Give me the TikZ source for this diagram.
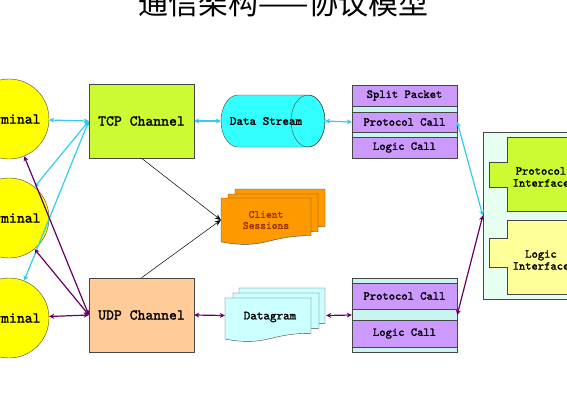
\documentclass[tikz,border=0pt]{standalone}
\usepackage{fontspec}
\newfontfamily\cjkfont{Noto Sans CJK SC}
\newfontfamily\labelfont{lmmono10-regular.otf}[FakeBold=1.6]
\usetikzlibrary{arrows.meta}

\definecolor{termyellow}{RGB}{255,255,0}
\definecolor{tcpgreen}{RGB}{204,250,51}
\definecolor{udppeach}{RGB}{255,204,153}
\definecolor{streamcyan}{RGB}{51,255,255}
\definecolor{callpurple}{RGB}{204,153,255}
\definecolor{bandcyan}{RGB}{200,245,240}
\definecolor{sessorange}{RGB}{255,153,0}
\definecolor{sesstext}{RGB}{153,51,0}
\definecolor{dgramcyan}{RGB}{204,255,255}
\definecolor{panelmint}{RGB}{230,255,240}
\definecolor{ifyellow}{RGB}{255,255,153}
\definecolor{linkcyan}{RGB}{51,204,238}
\definecolor{linkpurple}{RGB}{102,0,102}
\definecolor{edgegray}{RGB}{70,70,70}

% one sheet of a document stack: style, left, top, width, height
\newcommand{\docsheet}[5]{%
  \filldraw[#1] (#2,#3) -- (#2+#4,#3) -- (#2+#4,#3+0.802*#5)
    .. controls (#2+0.5*#4,#3+0.802*#5) and (#2+0.5*#4,#3+1.107*#5) .. (#2,#3+0.934*#5) -- cycle;}

\begin{document}
\begin{tikzpicture}[x=1pt,y=-1pt,
    lbl/.style={font=\labelfont\fontsize{#1}{#1}\selectfont},
    terminal/.style={circle,draw=edgegray,fill=termyellow,minimum size=80pt,inner sep=0pt,lbl=15},
    channel/.style={rectangle,draw=edgegray,minimum width=105pt,minimum height=74pt,inner sep=0pt,lbl=15},
    stackbg/.style={rectangle,draw=edgegray,fill=bandcyan,minimum width=105pt,inner sep=0pt},
    callrow/.style={rectangle,draw=edgegray,fill=callpurple,minimum width=105pt,inner sep=0pt,lbl=12},
    cyanlink/.style={draw=linkcyan,line width=1.2pt,
      every edge/.append style={{Stealth[length=5pt,width=5pt]}-{Stealth[length=5pt,width=5pt]}}},
    purplelink/.style={draw=linkpurple,line width=1.2pt,
      every edge/.append style={{Stealth[length=5pt,width=5pt]}-{Stealth[length=5pt,width=5pt]}}},
    sheetlink/.style={draw=black,line width=0.5pt,
      every edge/.append style={-{Stealth[length=6pt,width=5pt]}}}]

  \useasboundingbox (0,0) rectangle (567,400);

  \node at (283.5,3) [font=\cjkfont\fontsize{30}{30}\selectfont] (title) {通信架构——协议模型};

  \node at (9,119) [terminal] (term1) {Terminal};
  \node at (9,218) [terminal] (term2) {Terminal};
  \node at (9,318) [terminal] (term3) {Terminal};

  \node at (141.5,121) [channel,fill=tcpgreen] (tcp) {TCP Channel};
  \node at (141.5,315) [channel,fill=udppeach] (udp) {UDP Channel};

  % data stream cylinder
  \filldraw[draw=edgegray,fill=streamcyan] (238,95) -- (308,95)
    arc[start angle=-90,end angle=90,x radius=17,y radius=26] -- (238,147)
    arc[start angle=90,end angle=270,x radius=17,y radius=26] -- cycle;
  \draw[edgegray] (308,121) ellipse [x radius=17,y radius=26];
  \node at (273,121) [minimum width=104pt,minimum height=52pt,inner sep=0pt] (stream) {};
  \node at (266,121) [lbl=12.5] (streamtext) {Data Stream};

  % client sessions
  \docsheet{draw=edgegray,fill=sessorange}{235}{189}{90}{47}
  \docsheet{draw=edgegray,fill=sessorange}{228}{194}{90}{47}
  \docsheet{draw=edgegray,fill=sessorange}{221}{198}{90}{47}
  \node at (266,220) [minimum width=90pt,minimum height=44pt,inner sep=0pt,align=center,
        text=sesstext,lbl=11] (sessions) {Client\\Sessions};

  % datagram
  \docsheet{draw=edgegray,fill=dgramcyan}{239}{288}{86}{44}
  \docsheet{draw=edgegray,fill=dgramcyan}{233}{293}{86}{44}
  \docsheet{draw=edgegray,fill=dgramcyan}{225}{298}{86}{44}
  \node at (275.5,315.5) [minimum width=101pt,minimum height=55pt,inner sep=0pt] (dgram) {};
  \node at (270,317) [lbl=12.5] (dgramtext) {Datagram};

  % call stacks
  \node at (404.5,121.5) [stackbg,minimum height=73pt] (upstack) {};
  \node at (404.5,95.5) [callrow,minimum height=21pt] (splitA) {Split Packet};
  \node at (404.5,122) [callrow,minimum height=20pt] (protoA) {Protocol Call};
  \node at (404.5,147.5) [callrow,minimum height=21pt] (logicA) {Logic Call};

  \node at (404.5,315) [stackbg,minimum height=74pt] (lowstack) {};
  \node at (404.5,296) [callrow,minimum height=26pt] (protoB) {Protocol Call};
  \node at (404.5,333.5) [callrow,minimum height=27pt] (logicB) {Logic Call};

  % interfaces
  \node at (547,215.5) [rectangle,draw=edgegray,fill=panelmint,minimum width=128pt,
        minimum height=167pt] (panel) {};
  \filldraw[draw=edgegray,fill=tcpgreen] (507,137) -- (600,137) -- (600,211) -- (507,211)
    -- (507,187) -- (489,187) -- (489,162) -- (507,162) -- cycle;
  \filldraw[draw=edgegray,fill=ifyellow] (507,220) -- (600,220) -- (600,294) -- (507,294)
    -- (507,267) -- (489,267) -- (489,238) -- (507,238) -- cycle;
  \node at (541,177) [align=center,lbl=12] (protoif) {Protocol\\Interface};
  \node at (541,260) [align=center,lbl=12] (logicif) {Logic\\Interface};

  \draw[cyanlink]
  (tcp.west) edge (term1)
             edge (term2)
             edge (term3)
  (tcp.east) edge (stream.west)
  (stream.east) edge (protoA.west)
  (protoA.east) edge (panel.west)
  ;
  \draw[purplelink]
  (udp.west) edge (term1)
             edge (term2)
             edge (term3)
  (udp.east) edge (dgram.west)
  (dgram.east) edge (lowstack.west)
  (lowstack.east) edge (panel.west)
  ;
  \draw[sheetlink]
  (tcp.south) edge (sessions.west)
  (udp.north) edge (sessions.west)
  ;
\end{tikzpicture}
\end{document}
